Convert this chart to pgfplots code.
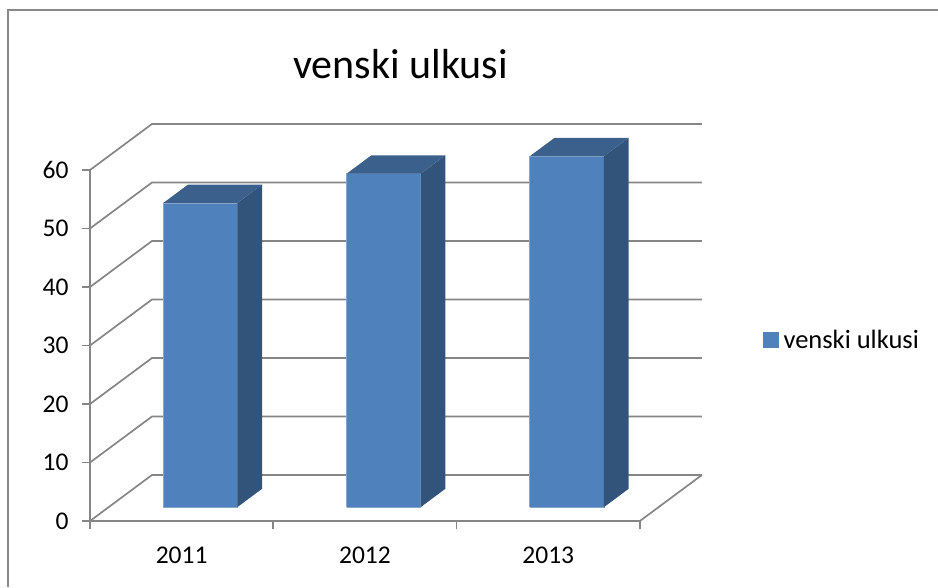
\documentclass[border=0pt]{standalone}
\usepackage{pgfplots}
\pgfplotsset{compat=1.18}
\usepackage{pgfplotstable}
\usepackage{fontspec}
\setmainfont{Carlito}

\definecolor{barfront}{RGB}{79,129,189}
\definecolor{barside}{RGB}{50,83,122}
\definecolor{bartop}{RGB}{60,96,140}
\definecolor{baredge}{RGB}{135,166,206}
\definecolor{gridgray}{RGB}{134,134,134}
\definecolor{framegray}{RGB}{137,137,137}

% values per year
\pgfplotstableread{
i v
0 52
1 57
2 60
}\bardata

% corners of the bar faces: cx = left/right, cd = front/back, cv = bottom/top
\pgfplotstableread{
cx cd cv
0 0 0
1 0 0
1 0 1
0 0 1
0 0 0
}\frontcorners
\pgfplotstableread{
cx cd cv
1 0 0
1 1 0
1 1 1
1 0 1
1 0 0
}\sidecorners
\pgfplotstableread{
cx cd cv
0 0 1
1 0 1
1 1 1
0 1 1
0 0 1
}\topcorners

\newcommand{\depthx}{0.338}
\newcommand{\depthy}{7.86}

\pgfplotsset{wall/.style={gridgray, line width=1.7pt, forget plot}}

\begin{document}
\begin{tikzpicture}
\useasboundingbox (0,0) rectangle (938pt,587pt);
\draw[framegray, line width=1.5pt] (8pt,0) -- (8pt,577pt) -- (938pt,577pt);
\node[font=\fontsize{42}{50}\selectfont, anchor=base] at (400.5pt,508pt) {venski ulkusi};
\begin{axis}[
    at={(90pt,66pt)}, anchor=south west,
    x=183.3pt, y=5.85pt,
    xmin=-0.5, xmax=2.838, ymin=0, ymax=67.86,
    clip=false,
    axis lines*=left,
    axis line style={draw=none},
    tick align=outside,
    major tick length=8pt,
    tick style={gridgray, line width=1.7pt},
    ytick={0,10,...,60},
    xtick={-0.5,0.5,1.5,2.5},
    xticklabels={},
    extra x ticks={0,1,2},
    extra x tick labels={2011,2012,2013},
    extra x tick style={major tick length=0pt, tick style={draw=none}},
    /pgf/number format/assume math mode=true,
    ticklabel style={font=\fontsize{25.5}{30}\selectfont},
    yticklabel style={xshift=-10pt},
    xticklabel style={yshift=-22pt},
    legend style={at={(1.0998,0.456)}, anchor=west, draw=none, fill=none,
        inner sep=0pt, font=\fontsize{26.5}{32}\selectfont},
    legend image code/.code={\fill[barfront] (0pt,-7.5pt) rectangle (15pt,7.5pt);},
]
\addlegendimage{barfront}
\addlegendentry{\hspace{3pt}venski ulkusi}

% walls and floor
\addplot[wall] coordinates {(-0.5,0) (-0.5,60)};
\addplot[wall] coordinates {(-0.5,0) (2.5,0) (2.838,7.86)};
\pgfplotsinvokeforeach{0,10,...,60}{
    \pgfmathsetmacro\gy{#1+\depthy}
    \addplot[wall] coordinates {(-0.5,#1) (-0.162,\gy) (2.838,\gy)};
}

% bars
\pgfplotsinvokeforeach{0,1,2}{
    \pgfplotstablegetelem{#1}{v}\of\bardata
    \let\barval\pgfplotsretval
    \addplot[fill=barfront, draw=baredge, line width=0.7pt, forget plot]
        table[x expr={#1-0.202+0.404*\thisrow{cx}+\depthx*(0.3+0.4*\thisrow{cd})},
              y expr={\thisrow{cv}*\barval+\depthy*(0.3+0.4*\thisrow{cd})}] {\frontcorners};
    \addplot[fill=barside, draw=none, forget plot]
        table[x expr={#1-0.202+0.404*\thisrow{cx}+\depthx*(0.3+0.4*\thisrow{cd})},
              y expr={\thisrow{cv}*\barval+\depthy*(0.3+0.4*\thisrow{cd})}] {\sidecorners};
    \addplot[fill=bartop, draw=none, forget plot]
        table[x expr={#1-0.202+0.404*\thisrow{cx}+\depthx*(0.3+0.4*\thisrow{cd})},
              y expr={\thisrow{cv}*\barval+\depthy*(0.3+0.4*\thisrow{cd})}] {\topcorners};
}
\end{axis}
\end{tikzpicture}
\end{document}
